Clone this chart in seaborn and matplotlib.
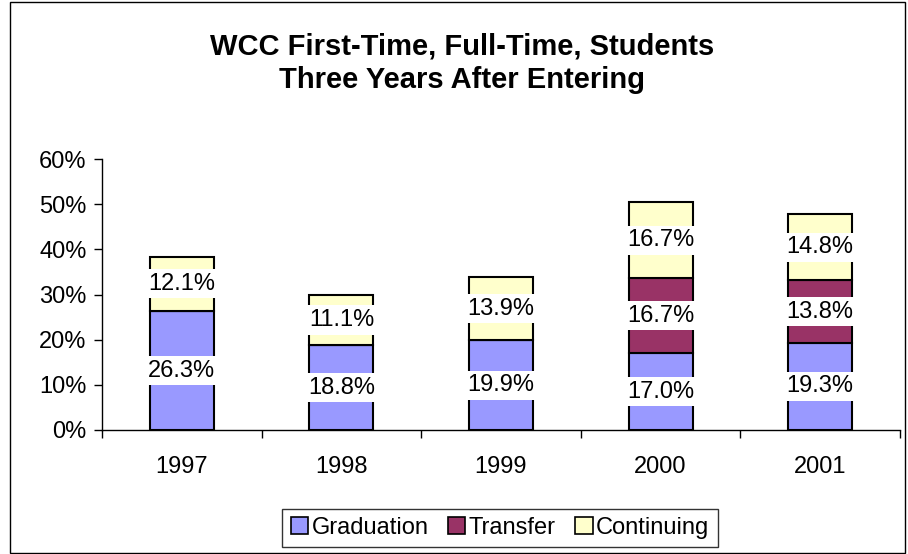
import matplotlib
matplotlib.use("Agg")
import matplotlib.pyplot as plt
import matplotlib.patches as mpatches
import seaborn as sns
import numpy as np
import pandas as pd

years = ["1997", "1998", "1999", "2000", "2001"]
graduation = [26.3, 18.8, 19.9, 17.0, 19.3]
transfer = [0.0, 0.0, 0.0, 16.7, 13.8]
continuing = [12.1, 11.1, 13.9, 16.7, 14.8]
series_names = ["Graduation", "Transfer", "Continuing"]
colors = ["#9999FF", "#993366", "#FFFFCC"]
yticks = [0, 10, 20, 30, 40, 50, 60]

sns.set_style("white")
plt.rcParams['font.family'] = ['Liberation Sans', 'DejaVu Sans']
plt.rcParams['text.color'] = 'black'
plt.rcParams['xtick.color'] = 'black'
plt.rcParams['ytick.color'] = 'black'
plt.rcParams['axes.labelcolor'] = 'black'

fig = plt.figure(figsize=(9.08, 5.54), dpi=100)
ax = fig.add_axes([102/908, 1-430/554, (900-102)/908, (430-159)/554])

df = pd.DataFrame({"year": years, "Graduation": graduation,
                   "Transfer": transfer, "Continuing": continuing})
bottom = np.zeros(len(years))
for name, col in zip(series_names, colors):
    vals = np.array(df[name])
    sns.barplot(x=df["year"], y=vals, bottom=bottom, color=col, width=0.4,
                edgecolor="black", linewidth=1.5, ax=ax, saturation=1)
    for i, v in enumerate(vals):
        if v > 0:
            ax.text(i, bottom[i] + v/2, f"{v:.1f}%", ha="center", va="center",
                    fontsize=17, color="black",
                    bbox=dict(facecolor="white", edgecolor="none", pad=2.5))
    bottom = bottom + vals

ax.set_xlim(-0.5, 4.5)
ax.set_ylim(0, 60)
ax.set_yticks(yticks)
ax.set_yticklabels([f"{t}%" for t in yticks], fontsize=17)
ax.set_xticks(range(len(years)))
ax.set_xticklabels(years, fontsize=17)
ax.tick_params(axis="x", length=0, pad=19, labelcolor="black")
ax.tick_params(axis="y", length=6, width=1, direction="out", left=True, pad=5,
               labelcolor="black", color="black")
ax.set_xticks(np.arange(-0.5, 5.0, 1.0), minor=True)
ax.tick_params(axis="x", which="minor", length=6, width=1, direction="out", bottom=True,
               color="black")
ax.set_xlabel("")
ax.set_ylabel("")
for s in ["top", "right"]:
    ax.spines[s].set_visible(False)
for s in ["left", "bottom"]:
    ax.spines[s].set_color("black")
    ax.spines[s].set_linewidth(1)

fig.text(462/908, 1-63/554, "WCC First-Time, Full-Time, Students\nThree Years After Entering",
         ha="center", va="center", fontsize=21, fontweight="bold", linespacing=1.25,
         color="black")

handles = [mpatches.Patch(facecolor=c, edgecolor="black", linewidth=1.2, label=n)
           for n, c in zip(series_names, colors)]
leg = fig.legend(handles=handles, loc="center", bbox_to_anchor=(500/908, 1-528/554),
                 ncol=3, fontsize=17, frameon=True, fancybox=False, edgecolor="black",
                 handlelength=0.75, handleheight=0.75, handletextpad=0.15, columnspacing=0.8,
                 borderpad=0.35)
leg.get_frame().set_linewidth(1)
for t in leg.get_texts():
    t.set_color("black")

border = mpatches.Rectangle((10/908, 1/554), (905-10)/908, (552-1)/554, transform=fig.transFigure,
                            fill=False, edgecolor="black", linewidth=1)
fig.patches.append(border)

fig.savefig("out.png", dpi=100)
